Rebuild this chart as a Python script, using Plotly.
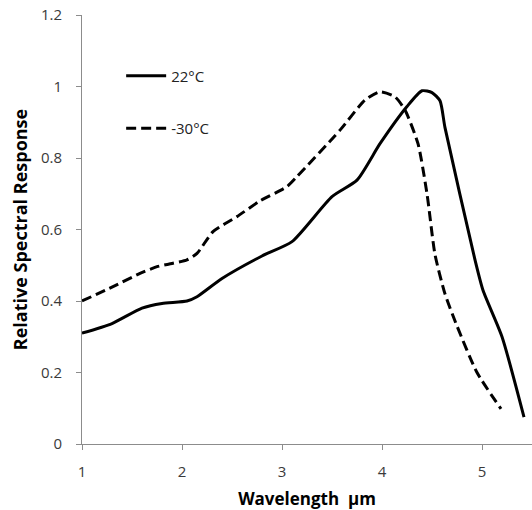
import plotly.graph_objects as go

# Data
x_22 = [1.0, 1.3, 1.6, 1.8, 2.05, 2.15, 2.4, 2.8, 3.1, 3.5, 3.75, 3.98, 4.25, 4.4, 4.5, 4.58, 4.63, 4.93, 5.01, 5.2, 5.42]
y_22 = [0.31, 0.337, 0.38, 0.393, 0.40, 0.412, 0.463, 0.526, 0.566, 0.692, 0.738, 0.84, 0.944, 0.988, 0.983, 0.96, 0.885, 0.515, 0.43, 0.30, 0.075]

x_m30 = [1.0, 1.31, 1.58, 1.75, 1.9, 2.05, 2.15, 2.31, 2.55, 2.78, 3.05, 3.15, 3.58, 3.83, 3.98, 4.13, 4.23, 4.36, 4.45, 4.53, 4.63, 4.75, 4.95, 5.19]
y_m30 = [0.40, 0.44, 0.477, 0.496, 0.505, 0.515, 0.533, 0.594, 0.636, 0.68, 0.72, 0.748, 0.878, 0.962, 0.985, 0.971, 0.934, 0.84, 0.70, 0.53, 0.42, 0.33, 0.20, 0.098]

x_ticks = [1, 2, 3, 4, 5]
y_ticks = [0, 0.2, 0.4, 0.6, 0.8, 1, 1.2]
y_tick_labels = ["0", "0.2", "0.4", "0.6", "0.8", "1", "1.2"]

FONT = "Open Sans, Liberation Sans, sans-serif"
TICK_COLOR = "#3a3a3a"
AXIS_COLOR = "#8c8c8c"

fig = go.Figure()
fig.add_trace(go.Scatter(
    x=x_22, y=y_22, mode="lines", name="22°C", legendgroup="a",
    line=dict(color="black", width=3, shape="spline", smoothing=0.6),
))
fig.add_trace(go.Scatter(
    x=x_m30, y=y_m30, mode="lines", name="-30°C", legendgroup="b",
    line=dict(color="black", width=3, dash="10px,5px", shape="spline", smoothing=0.6),
))

fig.update_layout(
    width=532, height=510,
    margin=dict(l=82, r=0, t=15, b=66),
    paper_bgcolor="white", plot_bgcolor="white",
    font=dict(family=FONT, size=14, color=TICK_COLOR),
    showlegend=True,
    legend=dict(
        x=0.087, y=0.896, xanchor="left", yanchor="top",
        bgcolor="rgba(0,0,0,0)", font=dict(size=15, color="#222"),
        tracegroupgap=30, itemwidth=40,
    ),
    xaxis=dict(
        range=[1, 5.5], tickvals=x_ticks, ticktext=[str(v) for v in x_ticks],
        showgrid=False, zeroline=False, showline=True, linecolor=AXIS_COLOR, linewidth=1,
        ticks="outside", ticklen=5, tickcolor=AXIS_COLOR, ticklabelstandoff=9,
        tickfont=dict(size=15, color=TICK_COLOR), automargin=False,
        ticklabeloverflow="allow",
        title=dict(text="<b>Wavelength  µm</b>", font=dict(size=17, color="black"), standoff=13),
    ),
    yaxis=dict(
        range=[0, 1.2], tickvals=y_ticks, ticktext=y_tick_labels,
        showgrid=False, zeroline=False, showline=True, linecolor=AXIS_COLOR, linewidth=1,
        ticks="outside", ticklen=5, tickcolor=AXIS_COLOR, ticklabelstandoff=11,
        tickfont=dict(size=15, color=TICK_COLOR), automargin=False,
        ticklabeloverflow="allow",
        title=dict(text="<b>Relative Spectral Response</b>", font=dict(size=18, color="black"), standoff=8),
    ),
)

fig.write_html("out.html", config={"displayModeBar": False},
               post_script="document.body.style.margin='0';")
